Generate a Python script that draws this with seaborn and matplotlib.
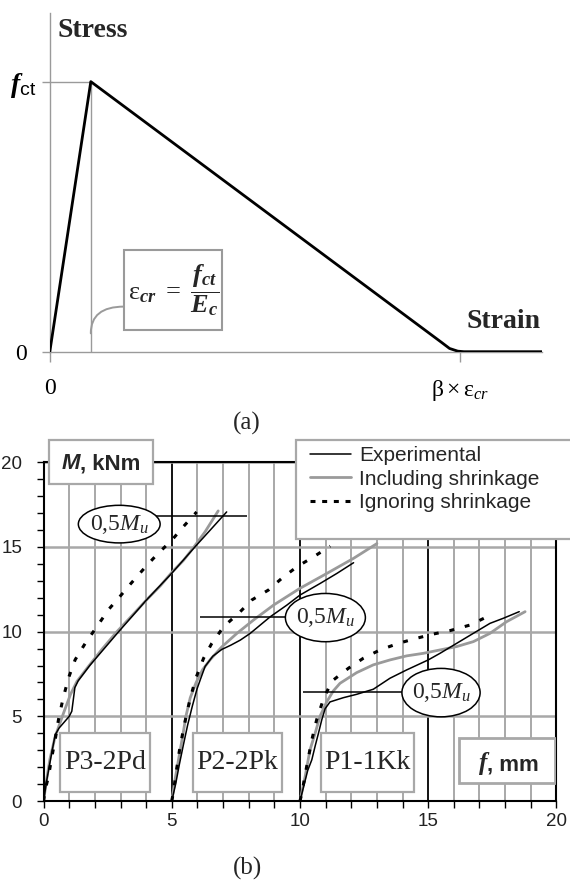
import matplotlib
matplotlib.use("Agg")
import matplotlib.pyplot as plt
import seaborn as sns
from matplotlib.patches import Rectangle, Ellipse
from matplotlib.lines import Line2D
from matplotlib.offsetbox import TextArea, HPacker, AnnotationBbox

# ---------------- data : panel (a) ----------------
strain_pts = [0, 1, 9.55, 9.75, 9.95, 10.1, 12]
stress_pts = [0, 1, 0.035, 0.012, 0.002, 0, 0]
strain_ticks = [0, 10]
stress_ticks = [0, 1]

# ---------------- data : panel (b) ----------------
# P3-2Pd
p3_exp_f = [0, 0.12, 0.3, 0.45, 0.6, 0.8, 1.0, 1.1, 1.22, 1.35, 1.8, 2.9, 4.0, 5.0, 5.9, 6.5, 7.14]
p3_exp_m = [0, 1.2, 2.7, 3.9, 4.3, 4.65, 5.0, 5.3, 6.7, 7.1, 8.0, 9.95, 11.85, 13.45, 15.0, 16.0, 17.07]
p3_inc_f = [0, 0.1, 0.25, 0.45, 0.78, 1.05, 1.3, 1.75, 2.3, 2.86, 3.45, 4.03, 4.55, 5.0, 5.45, 5.84, 6.3, 6.81]
p3_inc_m = [0, 1.1, 2.5, 3.8, 5.2, 6.3, 7.06, 7.95, 9.0, 10.0, 10.95, 11.9, 12.7, 13.5, 14.2, 14.95, 15.9, 17.13]
p3_ign_f = [0, 0.06, 0.19, 0.32, 0.45, 0.58, 0.75, 0.97, 1.23, 1.62, 2.08, 2.53, 2.99, 3.38, 3.96, 4.42, 5.0, 5.45, 5.97]
p3_ign_m = [0, 0.65, 1.44, 2.6, 3.6, 4.8, 6.0, 7.26, 8.34, 9.3, 10.3, 11.3, 12.1, 12.8, 13.8, 14.55, 15.4, 16.2, 17.07]
# P2-2Pk
p2_exp_f = [5, 5.15, 5.3, 5.45, 5.62, 5.8, 5.98, 6.12, 6.3, 6.6, 6.95, 7.3, 7.67, 8.06, 8.84, 9.49, 10.0, 10.79, 11.44, 12.09]
p2_exp_m = [0, 1.0, 2.2, 3.3, 4.5, 5.6, 6.6, 7.2, 7.95, 8.55, 8.95, 9.2, 9.5, 9.9, 10.88, 11.57, 12.16, 12.85, 13.44, 14.07]
p2_inc_f = [5, 5.12, 5.28, 5.42, 5.55, 5.72, 5.95, 6.2, 6.5, 6.95, 7.54, 8.19, 8.97, 10.0, 11.05, 12.09, 13.0]
p2_inc_m = [0, 1.2, 2.6, 3.8, 5.0, 6.1, 7.0, 7.75, 8.35, 9.1, 9.9, 10.69, 11.57, 12.56, 13.44, 14.33, 15.2]
p2_ign_f = [5, 5.06, 5.19, 5.3, 5.45, 5.6, 5.78, 5.95, 6.24, 6.56, 7.02, 7.67, 8.12, 8.77, 9.29, 9.88, 10.53, 11.18]
p2_ign_m = [0, 0.5, 1.9, 3.0, 4.2, 5.3, 6.4, 7.3, 8.43, 9.31, 10.29, 11.18, 11.87, 12.46, 13.15, 13.83, 14.42, 15.05]
# P1-1Kk
p1_exp_f = [10, 10.15, 10.3, 10.46, 10.6, 10.72, 10.85, 10.98, 11.17, 11.69, 12.21, 12.86, 13.51, 14.16, 15.0, 15.46, 16.11, 16.76, 17.41, 17.93, 18.55]
p1_exp_m = [0, 0.9, 1.8, 2.43, 3.3, 4.0, 4.8, 5.45, 5.85, 6.1, 6.3, 6.6, 7.25, 7.74, 8.33, 8.72, 9.31, 9.9, 10.49, 10.79, 11.18]
p1_inc_f = [10, 10.2, 10.39, 10.59, 10.78, 11.04, 11.3, 11.56, 12.21, 12.86, 13.51, 14.16, 14.81, 15.46, 16.11, 16.76, 17.41, 18.06, 18.78]
p1_inc_m = [0, 1.44, 3.02, 4.0, 5.0, 5.85, 6.5, 6.95, 7.58, 8.04, 8.33, 8.57, 8.72, 8.92, 9.12, 9.41, 9.9, 10.59, 11.18]
p1_ign_f = [10, 10.07, 10.26, 10.46, 10.65, 10.91, 11.24, 11.6, 11.89, 12.47, 13.12, 13.84, 14.55, 15.2, 15.85, 16.63, 17.35]
p1_ign_m = [0, 0.45, 2.04, 3.6, 4.8, 6.0, 7.07, 7.5, 7.84, 8.43, 8.92, 9.31, 9.61, 9.86, 10.06, 10.39, 10.92]

beam_names = ["P3-2Pd", "P2-2Pk", "P1-1Kk"]
half_mu = [16.81, 10.84, 6.41]          # 0,5 Mu level for each beam
series_labels = ["Experimental", "Including shrinkage", "Ignoring shrinkage"]
f_ticks = [0, 5, 10, 15, 20]
m_ticks = [0, 5, 10, 15, 20]

# ---------------- style ----------------
sns.set_theme(style="white")
plt.rcParams.update({
    "font.family": ["Liberation Sans", "DejaVu Sans"],
    "mathtext.fontset": "custom",
    "mathtext.rm": "Liberation Serif",
    "mathtext.it": "Liberation Serif:italic",
    "mathtext.bf": "Liberation Serif:bold:italic",
    "mathtext.sf": "Liberation Sans",
})
GRAY = "#9a9a9a"
GRID = "#a8a8a8"
SERIF = "Liberation Serif"

W, H = 570, 881
fig = plt.figure(figsize=(W / 100, H / 100), dpi=100)
fig.patch.set_facecolor("white")


def fig_rect(l, t, r, b):
    return [l / W, 1 - b / H, (r - l) / W, (b - t) / H]


# ================= panel (a) =================
ax1 = fig.add_axes(fig_rect(49.8, 13.3, 541.8, 351.7))
ax1.set_xlim(0, 12)
ax1.set_ylim(0, 1.253)
ax1.hlines(stress_pts[1], 0, strain_pts[1], color=GRAY, lw=1.0, zorder=1)
ax1.vlines(strain_pts[1], 0, stress_pts[1], color=GRAY, lw=1.0, zorder=1)
sns.lineplot(x=strain_pts, y=stress_pts, ax=ax1, color="black", lw=2.0,
             sort=False, estimator=None, errorbar=None, legend=False, zorder=3)
for s in ["top", "right"]:
    ax1.spines[s].set_visible(False)
for s in ["left", "bottom"]:
    ax1.spines[s].set_color(GRAY)
    ax1.spines[s].set_linewidth(1.0)
ax1.set_xlabel("")
ax1.set_ylabel("")
ax1.set_xticks(strain_ticks, labels=["0", r"$\mathrm{\beta}\times\mathrm{\varepsilon}_{cr}$"])
ax1.set_yticks(stress_ticks, labels=["0", r"$\mathbf{f}_{\mathsf{ct}}$"])
ax1.tick_params(axis="x", bottom=True, direction="out", length=7, width=1.0,
                color=GRAY, pad=12, labelsize=17, labelcolor="black")
ax1.tick_params(axis="y", left=True, direction="out", length=6, width=1.0,
                color=GRAY, labelsize=17, labelcolor="black")
for lab in ax1.get_xticklabels():
    lab.set_fontfamily(SERIF)
ylabs = ax1.get_yticklabels()
ylabs[0].set_fontfamily(SERIF)
ylabs[1].set_fontsize(20)
yt = ax1.yaxis.get_major_ticks()
yt[0].set_pad(10.5)
yt[1].set_pad(4)

ax1.text(0.2, 1.1667, "Stress", fontfamily=SERIF, fontweight="bold", fontsize=20,
         ha="left", va="baseline")
ax1.text(10.17, 0.0867, "Strain", fontfamily=SERIF, fontweight="bold", fontsize=20,
         ha="left", va="baseline")
ax1.add_patch(Rectangle((1.81, 0.08), 2.39, 0.297, fc="white", ec=GRAY, lw=1.5, zorder=4))
ax1.text(3.02, 0.228,
         r"$\mathrm{\varepsilon}_{\mathbf{cr}}\ =\ \dfrac{\mathbf{f}_{\mathbf{ct}}}{\mathbf{E}_{\mathbf{c}}}$",
         fontsize=19, ha="center", va="center", zorder=5)
ax1.annotate("", xy=(1.0, 0.068), xytext=(1.81, 0.167),
             arrowprops=dict(arrowstyle="-", color=GRAY, lw=1.4, shrinkA=0, shrinkB=0,
                             connectionstyle="angle3,angleA=0,angleB=90"), zorder=3)
fig.text(247 / W, 1 - 423 / H, "(a)", ha="center", va="center", fontfamily=SERIF, fontsize=18)

# ================= panel (b) =================
ax2 = fig.add_axes(fig_rect(43.6, 462.3, 556.4, 801))
ax2.set_xlim(0, 20)
ax2.set_ylim(0, 20)
ax2.set_axisbelow(True)
ax2.set_xticks(f_ticks)
ax2.set_xticks(range(0, 21), minor=True)
ax2.set_yticks(m_ticks)
ax2.set_yticks(range(0, 21), minor=True)
ax2.xaxis.grid(True, which="minor", color=GRID, lw=1.4)
ax2.xaxis.grid(True, which="major", color="black", lw=1.3)
ax2.yaxis.grid(True, which="major", color=GRID, lw=1.8)
ax2.tick_params(axis="both", which="both", bottom=True, left=True, direction="out",
                length=5, width=1.0, color="black")
ax2.tick_params(axis="x", which="major", labelsize=13.5, pad=3.6, labelcolor="#222222")
ax2.tick_params(axis="y", which="major", labelsize=13.5, pad=10.5, labelcolor="#222222")
for s in ax2.spines.values():
    s.set_color("black")
    s.set_linewidth(1.5)

ign_style = (0, (1.6, 3.6))
beams = [
    (p3_exp_f, p3_exp_m, p3_inc_f, p3_inc_m, p3_ign_f, p3_ign_m),
    (p2_exp_f, p2_exp_m, p2_inc_f, p2_inc_m, p2_ign_f, p2_ign_m),
    (p1_exp_f, p1_exp_m, p1_inc_f, p1_inc_m, p1_ign_f, p1_ign_m),
]
for ef, em, inf, inm, gf, gm in beams:
    sns.lineplot(x=inf, y=inm, ax=ax2, color=GRAY, lw=2.0, sort=False, estimator=None,
                 errorbar=None, legend=False, zorder=2)
    sns.lineplot(x=gf, y=gm, ax=ax2, color="black", lw=2.2, linestyle=ign_style, sort=False,
                 estimator=None, errorbar=None, legend=False, zorder=2.5)
    sns.lineplot(x=ef, y=em, ax=ax2, color="black", lw=1.1, sort=False, estimator=None,
                 errorbar=None, legend=False, zorder=3)
ax2.set_xlabel("")
ax2.set_ylabel("")

# 0,5 Mu annotations
ell_specs = [((2.95, 16.35), 3.19, 2.22, 2.95, 7.92),
             ((10.99, 10.83), 3.12, 2.85, 6.1, 10.99),
             ((15.5, 6.4), 3.05, 2.86, 10.11, 15.5)]
for (c, w, h, x0, x1), lvl in zip(ell_specs, half_mu):
    ax2.hlines(lvl, x0, x1, color="black", lw=1.1, zorder=4)
    ax2.add_patch(Ellipse(c, w, h, fc="white", ec="black", lw=1.1, zorder=6))
    ax2.text(c[0], c[1], r"$0{,}5M_u$", fontsize=17, ha="center", va="center", zorder=7)

# beam name boxes
box_specs = [(0.64, 3.52), (5.82, 3.47), (10.81, 3.63)]
for (bx, bw), name in zip(box_specs, beam_names):
    ax2.add_patch(Rectangle((bx, 0.55), bw, 3.45, fc="white", ec=GRID, lw=1.6, zorder=6))
    ax2.text(bx + bw / 2, 2.27, name, fontfamily=SERIF, fontsize=20, ha="center",
             va="center", zorder=7)

# axis label boxes
ax2.add_patch(Rectangle((0.21, 18.74), 4.05, 2.56, fc="white", ec=GRID, lw=1.6, zorder=6,
                        clip_on=False))
mlab = HPacker(children=[TextArea("M", textprops=dict(fontstyle="italic", fontweight="bold",
                                                       fontsize=16, fontfamily="Liberation Sans")),
                         TextArea(", kNm", textprops=dict(fontweight="bold", fontsize=16,
                                                          fontfamily="Liberation Sans"))],
               align="baseline", pad=0, sep=0)
ax2.add_artist(AnnotationBbox(mlab, (2.23, 19.9), frameon=False, box_alignment=(0.5, 0.5),
                              zorder=7, annotation_clip=False))
ax2.add_patch(Rectangle((16.2, 1.04), 3.73, 2.66, fc="white", ec=GRID, lw=2.0, zorder=6))
flab = HPacker(children=[TextArea("f", textprops=dict(fontstyle="italic", fontweight="bold",
                                                       fontsize=18, fontfamily=SERIF)),
                         TextArea(", mm", textprops=dict(fontweight="bold", fontsize=16,
                                                         fontfamily="Liberation Sans"))],
               align="baseline", pad=0, sep=0)
ax2.add_artist(AnnotationBbox(flab, (18.15, 2.2), frameon=False, box_alignment=(0.5, 0.5),
                              zorder=7))

# legend
fig.add_artist(Rectangle((296.4 / W, 1 - 539.3 / H), (585 - 296.4) / W, (539.3 - 440) / H,
                         transform=fig.transFigure, fc="white", ec=GRID, lw=1.6, zorder=3))
handles = [Line2D([], [], color="black", lw=1.1),
           Line2D([], [], color=GRAY, lw=2.0),
           Line2D([], [], color="black", lw=2.2, linestyle=(0, (1.63, 2.19)))]
fig.legend(handles, series_labels, loc="upper left", bbox_to_anchor=(310 / W, 1 - 446 / H),
           frameon=False, borderpad=0, borderaxespad=0, handlelength=1.95,
           handletextpad=0.4, labelspacing=0.22, prop={"family": "Liberation Sans", "size": 15})

fig.text(247 / W, 1 - 868 / H, "(b)", ha="center", va="center", fontfamily=SERIF, fontsize=18)

fig.savefig("out.png", dpi=100, facecolor="white")
